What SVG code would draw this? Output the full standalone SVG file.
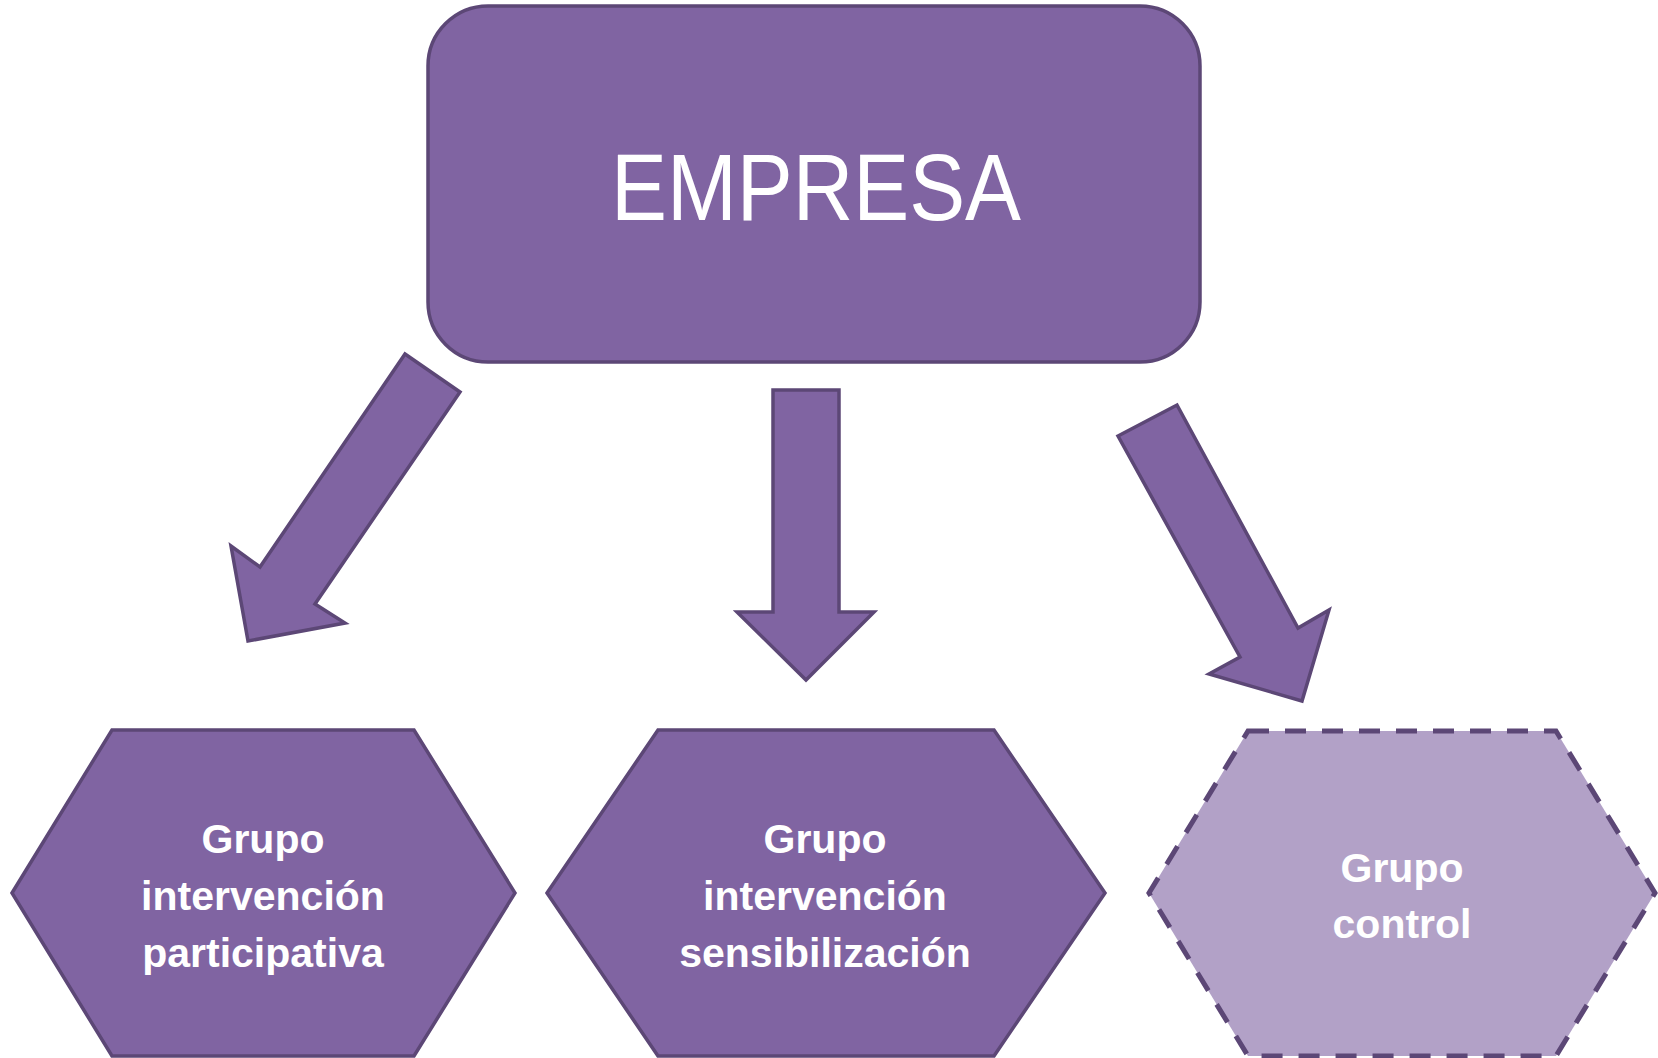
<svg xmlns="http://www.w3.org/2000/svg" width="1658" height="1058" viewBox="0 0 1658 1058">
<style>
.shape{fill:#8064A2;stroke:#5C4776;stroke-width:3.5;stroke-linejoin:miter}
.light{fill:#B2A1C7;stroke:#5C4776;stroke-width:5;stroke-dasharray:21 16}
.lbl{font-family:"Liberation Sans",Arial,sans-serif;font-weight:bold;font-size:41px;fill:#FFFFFF;text-anchor:middle}
.title{font-family:"Liberation Sans",Arial,sans-serif;font-size:95px;fill:#FFFFFF;text-anchor:middle}
</style>
<rect width="1658" height="1058" fill="#FFFFFF"/>
<g id="empresa">
<rect class="shape" x="428" y="6" width="772" height="356" rx="60" ry="60"/>
<text class="title" x="816" y="220" textLength="410" lengthAdjust="spacingAndGlyphs">EMPRESA</text>
</g>
<g id="connectors">
<polygon class="shape" points="405,354 460,392 315,604 345,623 248,641 231,546 260,567"/>
<polygon class="shape" points="773,390 839,390 839,612 874,612 806,680 737,612 773,612"/>
<polygon class="shape" points="1118,436 1177,405 1298,628 1329,610 1302,701 1209,674 1240,657"/>
</g>
<g id="participativa">
<polygon class="shape" points="12,893 112,730 414,730 515,893 414,1056 112,1056"/>
<text class="lbl" x="263" y="853">Grupo</text>
<text class="lbl" x="263" y="910">intervención</text>
<text class="lbl" x="263" y="967">participativa</text>
</g>
<g id="sensibilizacion">
<polygon class="shape" points="547,893 658,730 994,730 1105,893 994,1056 658,1056"/>
<text class="lbl" x="825" y="853">Grupo</text>
<text class="lbl" x="825" y="910">intervención</text>
<text class="lbl" x="825" y="967">sensibilización</text>
</g>
<g id="control">
<polygon class="light" points="1248,731 1556,731 1655,893 1556,1056 1248,1056 1149,893"/>
<text class="lbl" x="1402" y="882">Grupo</text>
<text class="lbl" x="1402" y="938">control</text>
</g>
</svg>
